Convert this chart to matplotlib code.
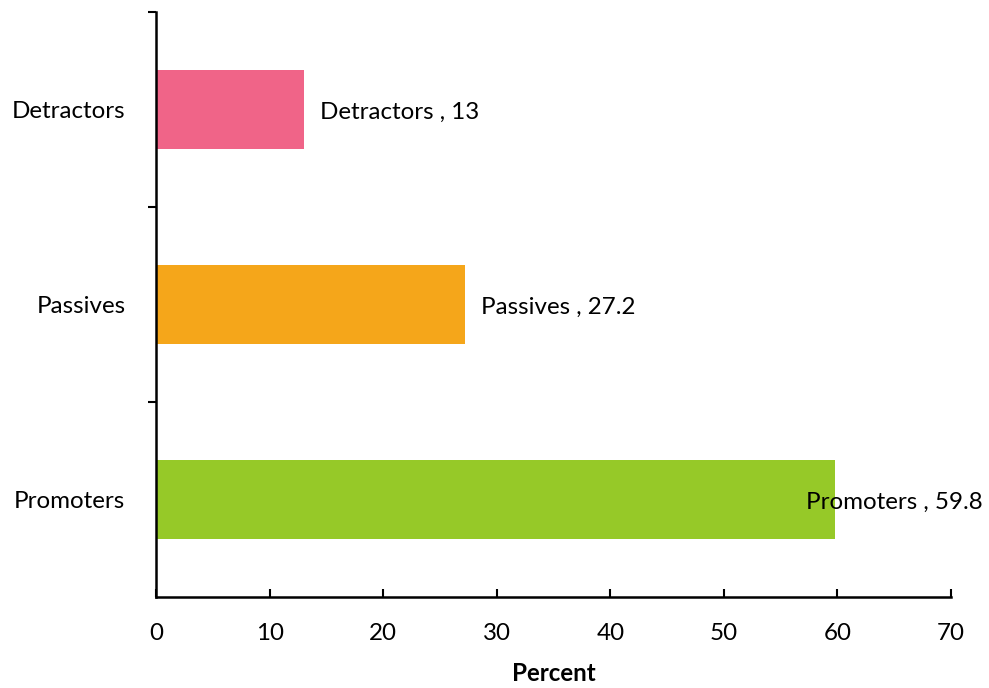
import matplotlib
matplotlib.use("Agg")
import matplotlib.pyplot as plt

# Дані
categories = ["Promoters", "Passives", "Detractors"]
values = [59.8, 27.2, 13]
colors = ["#96C928", "#F5A61A", "#F06488"]
label_offsets = [-29, 16, 16]  # зсув підписів у пікселях

plt.rcParams['font.family'] = ['Lato', 'DejaVu Sans']
fs = 17.4

fig = plt.figure(figsize=(9.89, 6.88), dpi=100)
ax = fig.add_axes([156/989, 1 - 597/688, (951-156)/989, (597-12)/688])

pos = list(range(len(categories)))
ax.barh(pos, values, height=0.41, color=colors)

for i, v in enumerate(values):
    ax.annotate(f"{categories[i]} , {v:g}", xy=(v, i), xytext=(label_offsets[i] * 0.72, -2),
                textcoords="offset points", ha="left", va="center", fontsize=fs)

ax.set_xlim(0, 70)
ax.set_ylim(-0.5, 2.5)
ax.set_xticks(range(0, 71, 10))
ax.tick_params(axis="x", direction="in", length=6, width=1.5, labelsize=fs, pad=19)

# мітки категорій без рисок, риски на межах категорій
ax.set_yticks(pos)
ax.set_yticklabels(categories)
ax.tick_params(axis="y", which="major", length=0, labelsize=fs, pad=22)
ax.set_yticks([0.5, 1.5, 2.5], minor=True)
ax.tick_params(axis="y", which="minor", direction="out", length=6, width=1.5)

for s in ["top", "right"]:
    ax.spines[s].set_visible(False)
for s in ["left", "bottom"]:
    ax.spines[s].set_linewidth(1.8)

ax.set_xlabel("Percent", fontsize=fs, fontweight="bold", labelpad=13)

fig.savefig("out.png", dpi=100)
